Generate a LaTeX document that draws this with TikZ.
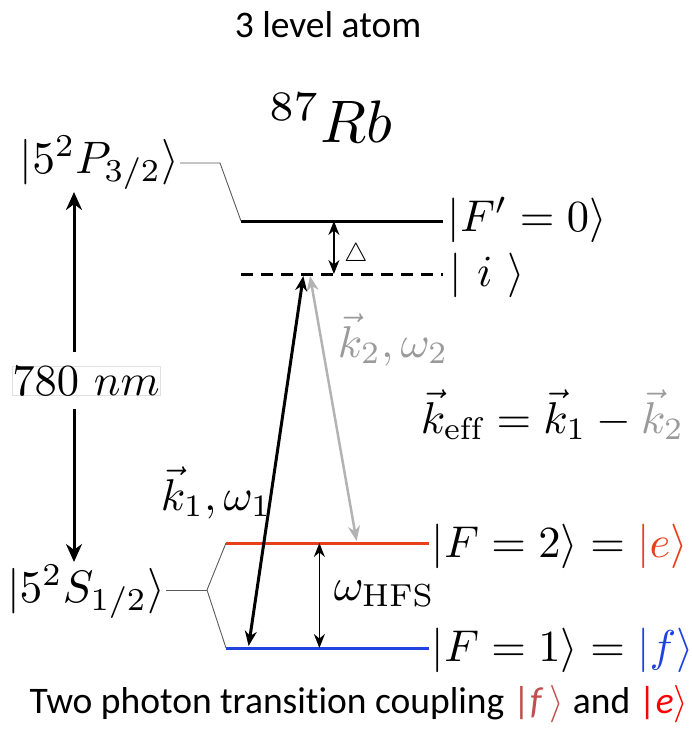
\RequirePackage{fix-cm}
\documentclass[tikz,border=0pt]{standalone}
\usepackage{amsmath}
\usepackage{fontspec}
\newfontfamily\capfont[Ligatures=NoCommon]{Carlito}
\usepackage{xcolor}
\usepackage{tikz}
\usetikzlibrary{arrows.meta,calc,positioning}
\definecolor{lvlred}{HTML}{E8401C}
\definecolor{lvlblue}{HTML}{1F42E0}
\definecolor{beam}{HTML}{B3B3B3}
\definecolor{beamtxt}{HTML}{9A9A9A}
\definecolor{thin}{HTML}{5A5A5A}
\definecolor{capf}{HTML}{C0504D}
\definecolor{cape}{HTML}{FF0000}
\tikzset{
  level/.style={line width=3pt},
  virtual/.style={line width=3pt,dash pattern=on 12pt off 8pt},
  split/.style={draw=thin,line width=.9pt},
  bigarr/.style={-{Stealth[length=18pt,width=16pt]},line width=3pt},
  laser/.style={{Stealth[length=15pt,width=12pt]}-{Stealth[length=15pt,width=12pt]},line width=3pt,shorten <=2pt,shorten >=2pt},
  gap/.style={{Stealth[length=14pt,width=11pt]}-{Stealth[length=14pt,width=11pt]},line width=1.5pt},
  lbl/.style={scale=#1,inner sep=0pt}, lbl/.default=4.45,
  captext/.style={font=\capfont\fontsize{37.5}{42}\selectfont,inner sep=0pt}
}
\begin{document}
\begin{tikzpicture}[x=1pt,y=-1pt]
  \useasboundingbox (0,0) rectangle (692,734);
  % title and species
  \node[captext,anchor=base] (title) at (328,37) {3 level atom};
  \node[lbl=6,anchor=base] (atom) at (331,142) {$^{87}Rb$};
  % excited manifold
  \draw[level] (241,221) coordinate (Fp0) -- (443,221) coordinate (Fp1);
  \draw[virtual] (241,274) coordinate (iv0) -- (443,274) coordinate (iv1);
  \node[lbl,anchor=base west] (Fplbl) at (447,231) {$|F'=0\rangle$};
  \node[lbl,anchor=base west] (ilbl) at (449,286) {$|\ i\ \rangle$};
  \draw[gap] ($(Fp0)!.46!(Fp1)$) -- ($(iv0)!.46!(iv1)$);
  \node[lbl=2.6] (det) at (356,255) {$\triangle$};
  \node[lbl=4.55,anchor=base east] (P32) at (180,173) {$|5^2P_{3/2}\rangle$};
  \draw[split] (P32.east |- 0,163) -- ++(40,0) -- (Fp0);
  % ground manifold
  \draw[level,lvlred] (226,543) coordinate (e0) -- (429,543) coordinate (e1);
  \draw[level,lvlblue] (226,648) coordinate (f0) -- (429,648) coordinate (f1);
  \node[lbl,anchor=base west] (elbl) at (431,557) {$|F=2\rangle=\textcolor{lvlred}{|e\rangle}$};
  \node[lbl,anchor=base west] (flbl) at (431,661) {$|F=1\rangle=\textcolor{lvlblue}{|f\rangle}$};
  \node[lbl=4.55,anchor=base east] (S12) at (166,602) {$|5^2S_{1/2}\rangle$};
  \draw[split] (S12.east |- 0,590) -- ++(41,0) coordinate (fork);
  \draw[split] (e0) -- (fork) -- (f0);
  \draw[gap] ($(e0)!.46!(e1)$) -- ($(f0)!.46!(f1)$);
  \node[lbl=4.55,anchor=base west] (hfs) at (333,600) {$\omega_{\mathrm{HFS}}$};
  % D2 line
  \coordinate (pup) at (74,192); \coordinate (sdn) at (74,562);
  \node[lbl,anchor=base,fill=white,draw=black!12,line width=.2pt,inner sep=.1pt] (wl) at (86,395) {$780\ nm$};
  \draw[bigarr,shorten <=13pt] (wl.north -| pup) -- (pup);
  \draw[bigarr,shorten <=13pt] (wl.south -| sdn) -- (sdn);
  % Raman beams
  \draw[laser] ($(f0)!.11!(f1)$) -- ($(iv0)!.31!(iv1)$);
  \draw[laser,beam,line width=2.5pt] ($(iv0)!.34!(iv1)$) -- ($(e0)!.645!(e1)$);
  \node[lbl,anchor=base west] (k1) at (160,510) {$\vec{k}_1,\omega_1$};
  \node[lbl,anchor=base west,text=beamtxt] (k2) at (337,357) {$\vec{k}_2,\omega_2$};
  \node[lbl,anchor=base west] (keff) at (420,433) {$\vec{k}_{\mathrm{eff}}=\vec{k}_1-\textcolor{beamtxt}{\vec{k}_2}$};
  % caption
  \node[captext,anchor=base] (capt) at (359,713) {Two photon transition coupling \textcolor{capf}{|\textit{f}\,$\rangle$} and \textcolor{cape}{|\textit{e}$\rangle$}};
\end{tikzpicture}
\end{document}
